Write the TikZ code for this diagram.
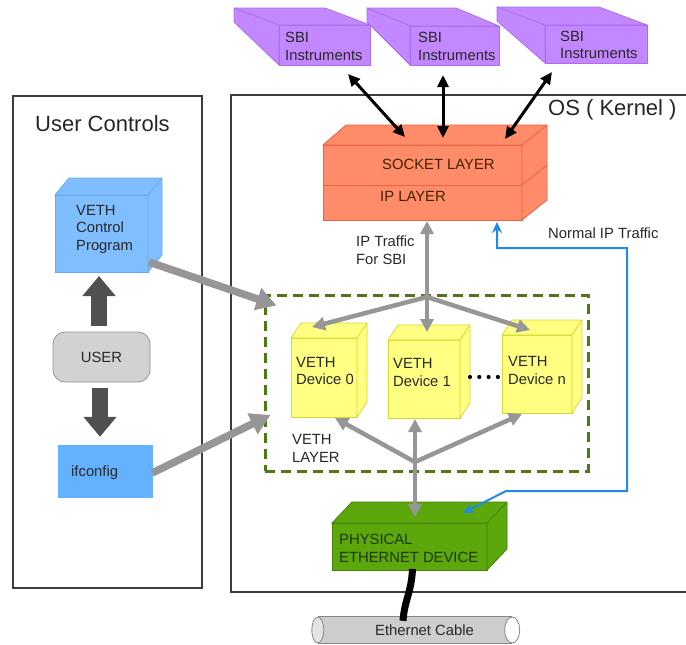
\documentclass[tikz,border=0pt]{standalone}
\usepackage{fontspec}
\setmainfont{Liberation Sans}
\usetikzlibrary{arrows.meta,calc}
\definecolor{sbifill}{RGB}{195,135,255}
\definecolor{sbiedge}{RGB}{170,110,235}
\definecolor{orfill}{RGB}{255,140,105}
\definecolor{oredge}{RGB}{232,100,65}
\definecolor{yelfill}{RGB}{255,255,130}
\definecolor{yeledge}{RGB}{215,215,50}
\definecolor{grnfill}{RGB}{92,168,12}
\definecolor{grnedge}{RGB}{68,130,5}
\definecolor{grntext}{RGB}{30,55,5}
\definecolor{bluefill}{RGB}{128,191,255}
\definecolor{blueedge}{RGB}{105,170,240}
\definecolor{ifcfill}{RGB}{100,178,255}
\definecolor{userfill}{RGB}{210,210,210}
\definecolor{useredge}{RGB}{150,150,150}
\definecolor{arrgray}{RGB}{150,150,150}
\definecolor{darkarr}{RGB}{80,80,80}
\definecolor{dashgrn}{RGB}{78,122,22}
\definecolor{traffic}{RGB}{30,140,230}
\definecolor{framecol}{RGB}{60,60,60}
\definecolor{textcol}{RGB}{40,40,40}
\definecolor{cablefill}{RGB}{205,205,205}
\definecolor{cableend}{RGB}{228,228,228}
\definecolor{cableedge}{RGB}{135,135,135}

% top and right faces of a box whose depth goes to the upper right
\newcommand\boxfaces[3]{%
  \filldraw[#3] (#1.north west) -- ($(#1.north west)+(#2)$) -- ($(#1.north east)+(#2)$)
    -- ($(#1.south east)+(#2)$) -- (#1.south east) -- (#1.north east) -- cycle;
  \draw[#3] (#1.north east) -- ($(#1.north east)+(#2)$);}
% top and left faces of an instrument box whose depth goes to the upper left
\newcommand\sbifaces[2]{%
  \filldraw[sbiface] (#1.south west) -- (#1.north west) -- (#1.north east)
    -- ($(#1.north east)+(#2)$) -- ($(#1.north west)+(#2)$) -- ($(#1.north west)+(#2)+(0,14)$) -- cycle;
  \draw[sbiface] (#1.north west) -- ($(#1.north west)+(#2)$);}

\begin{document}
\begin{tikzpicture}[x=1pt,y=-1pt,
  face/.style={draw, line width=0.8pt, inner sep=0pt, outer sep=0pt},
  sbiface/.style={fill=sbifill, draw=sbiedge, line width=0.8pt},
  orface/.style={fill=orfill, draw=oredge, line width=0.8pt},
  yelface/.style={fill=yelfill, draw=yeledge, line width=0.8pt},
  grnface/.style={fill=grnfill, draw=grnedge, line width=0.8pt},
  blueface/.style={fill=bluefill, draw=blueedge, line width=0.8pt},
  txt/.style={font=\fontsize{14.8}{17.5}\selectfont, align=left, inner sep=0pt, anchor=west, text=textcol},
  bigtxt/.style={font=\fontsize{22}{26}\selectfont, inner sep=0pt, anchor=west, text=black!85},
  frame/.style={draw=framecol, line width=1.1pt},
  garr/.style={draw=arrgray, line width=4.5pt, -{Triangle[length=13pt,width=13pt]}},
  garrb/.style={draw=arrgray, line width=4.5pt, {Triangle[length=13pt,width=13pt]}-{Triangle[length=13pt,width=13pt]}},
  widegarr/.style={draw=arrgray, line width=7.5pt, -{Triangle[length=20pt,width=22pt]}},
  blkarr/.style={draw=black, line width=3pt, {Triangle[length=12pt,width=11pt]}-{Triangle[length=12pt,width=11pt]}},
  blockarr/.style={draw=darkarr, line width=16pt, -{Triangle[length=20pt,width=32pt]}},
  traf/.style={draw=traffic, line width=2pt, {Stealth[length=11pt,width=10pt]}-{Stealth[length=11pt,width=10pt]}}
]
\useasboundingbox (0,0) rectangle (686,645);
\fill[white] (0,0) rectangle (686,645);

% frames
\node[frame, inner sep=0pt, minimum width=189pt, minimum height=492pt] (userbox) at (107.5,342) {};
\draw[frame] (690,95) -- (231,95) -- (231,592) -- (690,592);
\node[bigtxt] (usertitle) at (35,124) {User Controls};
\node[bigtxt] (ostitle) at (548,110) {OS ( Kernel )};

% VETH layer
\node[draw=dashgrn, line width=3pt, dash pattern=on 10pt off 6pt, inner sep=0pt,
      minimum width=323pt, minimum height=176pt] (vethlayer) at (426.5,383) {};

% SBI instruments
\node[face, sbiface, minimum width=91pt, minimum height=40pt] (sbi1) at (324.5,45) {};
\node[face, sbiface, minimum width=89pt, minimum height=39pt] (sbi2) at (454.5,45.5) {};
\node[face, sbiface, minimum width=102pt, minimum height=38pt] (sbi3) at (596,44) {};
\sbifaces{sbi1}{-45,-17}
\sbifaces{sbi2}{-43,-18}
\sbifaces{sbi3}{-48,-18}

% socket / IP layer
\node[face, orface, minimum width=199pt, minimum height=40pt] (socket) at (422.5,165) {};
\node[face, orface, minimum width=199pt, minimum height=35pt] (iplayer) at (422.5,202.5) {};
\filldraw[orface] (socket.north west) -- ($(socket.north west)+(23,-20)$) -- ($(socket.north east)+(25,-20)$)
  -- ($(iplayer.south east)+(25,-20)$) -- (iplayer.south east) -- (socket.north east) -- cycle;
\draw[orface] (socket.north east) -- ($(socket.north east)+(25,-20)$);
\draw[orface] (socket.south east) -- ($(socket.south east)+(25,-20)$);

% VETH devices
\node[face, yelface, minimum width=66pt, minimum height=79pt] (dev0) at (324,377.5) {};
\node[face, yelface, minimum width=72pt, minimum height=78pt] (dev1) at (424,379) {};
\node[face, yelface, minimum width=70pt, minimum height=78pt] (devn) at (537,374) {};
\boxfaces{dev0}{10,-15}{yelface}
\boxfaces{dev1}{10,-15}{yelface}
\boxfaces{devn}{10,-15}{yelface}
\foreach \i in {0,...,3} \fill (470+9.3*\i,377) circle[radius=2.1pt];

% physical device
\node[face, grnface, minimum width=155pt, minimum height=47pt] (phys) at (409.5,546.5) {};
\boxfaces{phys}{20,-21}{grnface}

% ethernet cable
\node[inner sep=0pt, minimum width=194pt, minimum height=26pt, fill=cablefill,
      font=\fontsize{14.8}{17}\selectfont, text=textcol] (cable) at (415,630) {\hspace*{19pt}Ethernet Cable};
\draw[cableedge, line width=0.8pt] (cable.north west) -- (cable.north east);
\draw[cableedge, line width=0.8pt] (cable.south west) -- (cable.south east);
\filldraw[fill=cableend, draw=cableedge, line width=0.8pt] (cable.west) ellipse [x radius=6pt, y radius=13pt];
\filldraw[fill=white, draw=cableedge, line width=0.8pt] (cable.east) ellipse [x radius=7.5pt, y radius=13pt];
\draw[black, line width=7pt] ($(phys.south)+(3,-1)$) .. controls ($(phys.south)+(2,22)$) and ($(phys.south)+(-5,30)$) .. ($(cable.north)+(-12,4)$);

% user controls
\node[face, blueface, minimum width=93pt, minimum height=77pt] (ctrl) at (101.5,233.5) {};
\boxfaces{ctrl}{14,-17}{blueface}
\node[draw=useredge, fill=userfill, line width=0.8pt, rounded corners=12pt, inner sep=0pt,
      minimum width=97pt, minimum height=50pt, font=\fontsize{14.8}{17}\selectfont, text=textcol] (user) at (101.5,357) {USER};
\node[fill=ifcfill, inner sep=0pt, minimum width=95pt, minimum height=53pt] (ifcfg) at (105.5,471.5) {};

\draw[blockarr] ($(user.north)+(-2.5,-6)$) -- ($(ctrl.south)+(-2.5,4)$);
\draw[blockarr] ($(user.south)+(-1.5,6)$) -- ($(ifcfg.north)+(-5.5,-8)$);
\draw[widegarr] ($(ctrl.south east)+(1,-10)$) -- ($(vethlayer.north west)+(13,12)$);
\draw[widegarr] ($(ifcfg.east)+(-1,1.5)$) -- ($(vethlayer.west)+(7,32)$);

% SBI links
\draw[blkarr] ($(socket.north west)+(82,-8)$) -- ($(sbi1.south east)+(-22,9)$);
\draw[blkarr] ($(socket.north west)+(120,-7)$) -- ($(sbi2.south)+(-11.5,10)$);
\draw[blkarr] ($(socket.north west)+(182,-6)$) -- ($(sbi3.south west)+(7,9)$);

% IP traffic for SBI
\coordinate (jt) at (427,297);
\draw[garr] (jt) -- ($(iplayer.south)+(4.5,1)$);
\draw[garr] (jt) -- ($(dev1.north)+(3,-8)$);
\draw[garr] (jt) -- ($(dev0.north)+(-12,-11)$);
\draw[garr] (jt) -- ($(devn.north)+(-7,-5)$);

\coordinate (jb) at (415,462);
\draw[garrb] ($(dev1.south)+(-9,1)$) -- ($(phys.north)+(5.5,-6)$);
\draw[garr] (jb) -- ($(dev0.south)+(11,1)$);
\draw[garr] (jb) -- ($(devn.south)+(-15,1)$);

% normal IP traffic
\draw[traf] ($(phys.north east)+(-24,-10)$) -- (506,491) -- (627,491) -- (627,248) -- (497,248) -- ($(iplayer.south east)+(-25,2)$);

% texts
\node[txt] (sbi1t) at (285,46.5) {SBI\\Instruments};
\node[txt] (sbi2t) at (418,46.5) {SBI\\Instruments};
\node[txt] (sbi3t) at (560,45) {SBI\\Instruments};
\node[txt, text=black!75!orange] (sockett) at (382,164) {SOCKET LAYER};
\node[txt, text=black!75!orange] (ipt) at (380,196) {IP LAYER};
\node[txt] (ipsbi) at (356,250) {IP Traffic\\For SBI};
\node[txt] (normal) at (548,233) {Normal IP Traffic};
\node[txt] (dev0t) at (296,371) {VETH\\Device 0};
\node[txt] (dev1t) at (393,372.5) {VETH\\Device 1};
\node[txt] (devnt) at (508,370.5) {VETH\\Device n};
\node[txt] (layert) at (292,448.5) {VETH\\LAYER};
\node[txt, text=grntext] (physt) at (339,548.5) {PHYSICAL\\ETHERNET DEVICE};
\node[txt] (ctrlt) at (76,229) {VETH\\Control\\Program};
\node[txt] (ifcfgt) at (71,473) {ifconfig};
\end{tikzpicture}
\end{document}
